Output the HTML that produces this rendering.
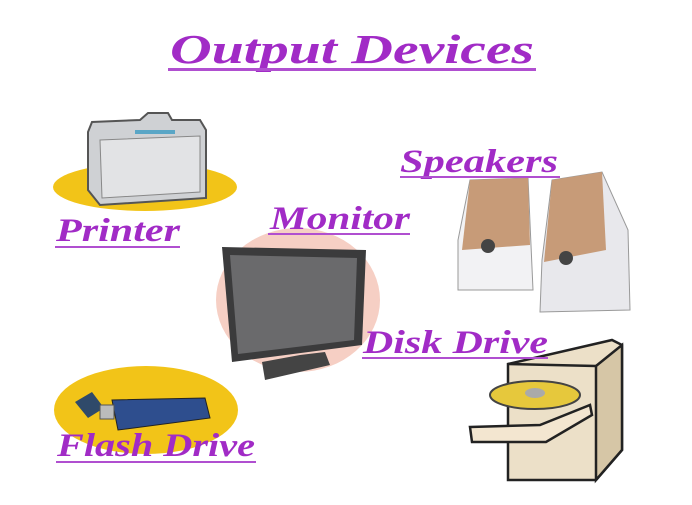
<!DOCTYPE html>
<html><head><style>
body{margin:0;background:#fff;width:692px;height:500px;overflow:hidden}
text{font-family:"Liberation Serif",serif;font-weight:bold;font-style:italic;fill:#a12bc6}
</style></head><body>
<svg width="692" height="500" viewBox="0 0 692 500">
<text x="170" y="63" font-size="41" textLength="364" lengthAdjust="spacingAndGlyphs">Output Devices</text>
<rect x="168" y="68" width="368" height="3" fill="#b04fd0"/>
<ellipse cx="145" cy="187" rx="92" ry="24" fill="#f2c418"/>
<path d="M88,132 L92,122 L140,120 L148,113 L168,113 L172,120 L200,120 L206,130 L206,198 L100,205 L88,190 Z" fill="#cfd1d4" stroke="#555" stroke-width="2"/>
<path d="M100,140 L200,136 L200,192 L102,198 Z" fill="#e2e3e5" stroke="#888"/>
<rect x="135" y="130" width="40" height="4" fill="#5aa6c6"/>
<text x="56" y="241" font-size="33" textLength="124" lengthAdjust="spacingAndGlyphs">Printer</text>
<rect x="55" y="246" width="125" height="2" fill="#b04fd0"/>
<ellipse cx="298" cy="300" rx="82" ry="72" fill="#f6cfc4"/>
<path d="M222,247 L366,250 L362,345 L232,362 Z" fill="#3b3b3c"/>
<path d="M230,255 L357,258 L354,340 L238,354 Z" fill="#6a6a6c"/>
<path d="M262,362 L300,355 L325,352 L330,365 L265,380 Z" fill="#444"/>
<text x="270" y="229" font-size="33" textLength="140" lengthAdjust="spacingAndGlyphs">Monitor</text>
<rect x="268" y="233" width="142" height="2" fill="#b04fd0"/>
<path d="M470,180 L528,178 L533,290 L458,290 L458,240 Z" fill="#f2f2f4" stroke="#999"/>
<path d="M470,180 L528,178 L530,245 L462,250 Z" fill="#c79b78"/>
<circle cx="488" cy="246" r="7" fill="#444"/>
<path d="M552,180 L602,172 L628,230 L630,310 L540,312 L542,260 Z" fill="#e8e8ec" stroke="#999"/>
<path d="M552,180 L602,172 L606,250 L544,262 Z" fill="#c79b78"/>
<circle cx="566" cy="258" r="7" fill="#444"/>
<text x="400" y="172" font-size="33" textLength="158" lengthAdjust="spacingAndGlyphs">Speakers</text>
<rect x="400" y="176" width="160" height="2" fill="#b04fd0"/>
<path d="M508,364 L612,340 L622,345 L622,450 L596,480 L508,480 Z" fill="#ece0c8" stroke="#222" stroke-width="2.5"/>
<path d="M596,366 L622,345 L622,450 L596,480 Z" fill="#d6c6a6" stroke="#222" stroke-width="2.5"/>
<line x1="508" y1="364" x2="596" y2="366" stroke="#222" stroke-width="2.5"/>
<path d="M470,427 L540,425 L590,405 L592,415 L546,442 L472,442 Z" fill="#f3e6d0" stroke="#222" stroke-width="2.5"/>
<ellipse cx="535" cy="395" rx="45" ry="14" fill="#e6c83c" stroke="#444" stroke-width="2"/>
<ellipse cx="535" cy="393" rx="10" ry="5" fill="#aaa"/>
<text x="363" y="353" font-size="33" textLength="185" lengthAdjust="spacingAndGlyphs">Disk Drive</text>
<rect x="362" y="357" width="186" height="2" fill="#b04fd0"/>
<ellipse cx="146" cy="410" rx="92" ry="44" fill="#f2c418"/>
<path d="M75,402 L92,392 L104,408 L88,418 Z" fill="#2f4a6a"/>
<path d="M112,400 L205,398 L210,418 L118,430 Z" fill="#2e4e8e" stroke="#222"/>
<rect x="100" y="405" width="14" height="14" fill="#bbb" stroke="#555"/>
<text x="57" y="456" font-size="33" textLength="198" lengthAdjust="spacingAndGlyphs">Flash Drive</text>
<rect x="56" y="461" width="200" height="2" fill="#b04fd0"/>
</svg>
</body></html>
